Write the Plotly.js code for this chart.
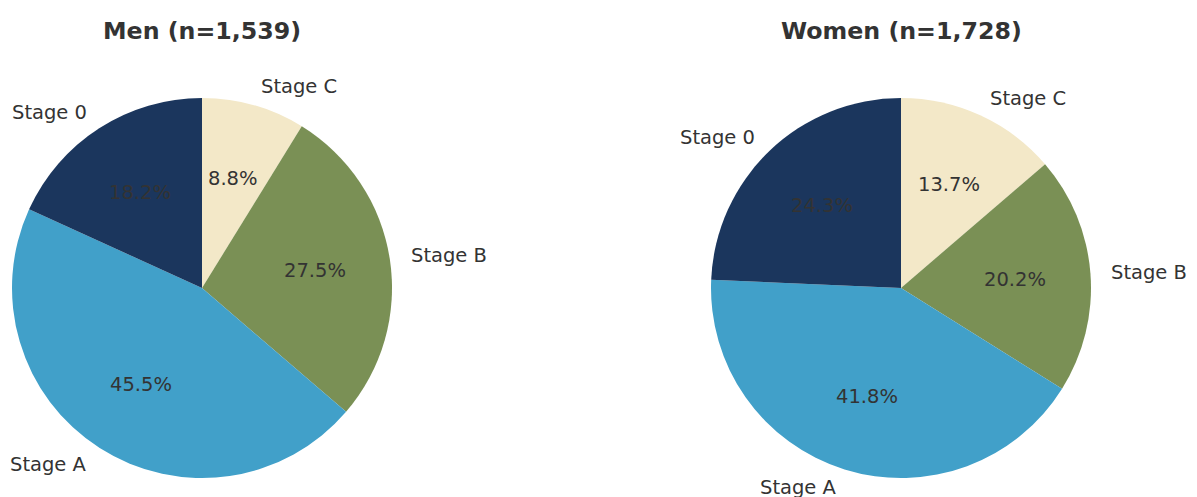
<!DOCTYPE html>
<html>
<head>
<meta charset="utf-8">
<script src="https://cdn.plot.ly/plotly-3.0.1.min.js"></script>
<style>html,body{margin:0;padding:0;background:#fff;}#chart{width:1197px;height:497px;}</style>
</head>
<body>
<div id="chart"></div>
<script>
const categories = ["Stage 0", "Stage A", "Stage B", "Stage C"];
const menValues = [18.2, 45.5, 27.5, 8.8];
const womenValues = [24.3, 41.8, 20.2, 13.7];
const titles = ["Men (n=1,539)", "Women (n=1,728)"];
const colors = ["#1b365d", "#41a0c9", "#7a9055", "#f3e8c8"];

const W = 1197, H = 497;
const R = 190;
const centers = [[202, 288], [901, 288]];
const series = [menValues, womenValues];

const traces = [];
const annotations = [];
const font = "DejaVu Sans, sans-serif";

series.forEach((vals, i) => {
  const [cx, cy] = centers[i];
  // matplotlib order: counterclockwise from 12 o'clock == reversed order clockwise from 12 o'clock
  traces.push({
    type: "pie",
    labels: categories.slice().reverse(),
    values: vals.slice().reverse(),
    sort: false,
    direction: "clockwise",
    rotation: 0,
    textinfo: "none",
    hoverinfo: "label+percent",
    marker: {colors: colors.slice().reverse(), line: {width: 0}},
    showlegend: false,
    domain: {x: [(cx - R) / W, (cx + R) / W], y: [(H - cy - R) / H, (H - cy + R) / H]}
  });
  const total = vals.reduce((a, b) => a + b, 0);
  let start = 90;
  vals.forEach((v, k) => {
    const span = 360 * v / total;
    const mid = (start + span / 2) * Math.PI / 180;
    start += span;
    const c = Math.cos(mid), s = Math.sin(mid);
    annotations.push({
      xref: "paper", yref: "paper",
      x: (cx + 1.1 * R * c) / W, y: (H - cy + 1.1 * R * s) / H,
      text: categories[k], showarrow: false,
      xanchor: c >= 0 ? "left" : "right", yanchor: "middle",
      font: {family: font, size: 19.5, color: "#333333"}
    });
    annotations.push({
      xref: "paper", yref: "paper",
      x: (cx + 0.6 * R * c) / W, y: (H - cy + 0.6 * R * s) / H,
      text: (100 * v / total).toFixed(1) + "%", showarrow: false,
      xanchor: "center", yanchor: "middle",
      font: {family: font, size: 19.5, color: "#333333"}
    });
  });
  annotations.push({
    xref: "paper", yref: "paper",
    x: cx / W, y: (H - 31) / H,
    text: "<b>" + titles[i] + "</b>", showarrow: false,
    xanchor: "center", yanchor: "middle",
    font: {family: font, size: 23.7, color: "#333333"}
  });
});

Plotly.newPlot("chart", traces, {
  width: W, height: H,
  margin: {l: 0, r: 0, t: 0, b: 0},
  paper_bgcolor: "#ffffff",
  annotations: annotations
}, {displayModeBar: false});
</script>
</body>
</html>
